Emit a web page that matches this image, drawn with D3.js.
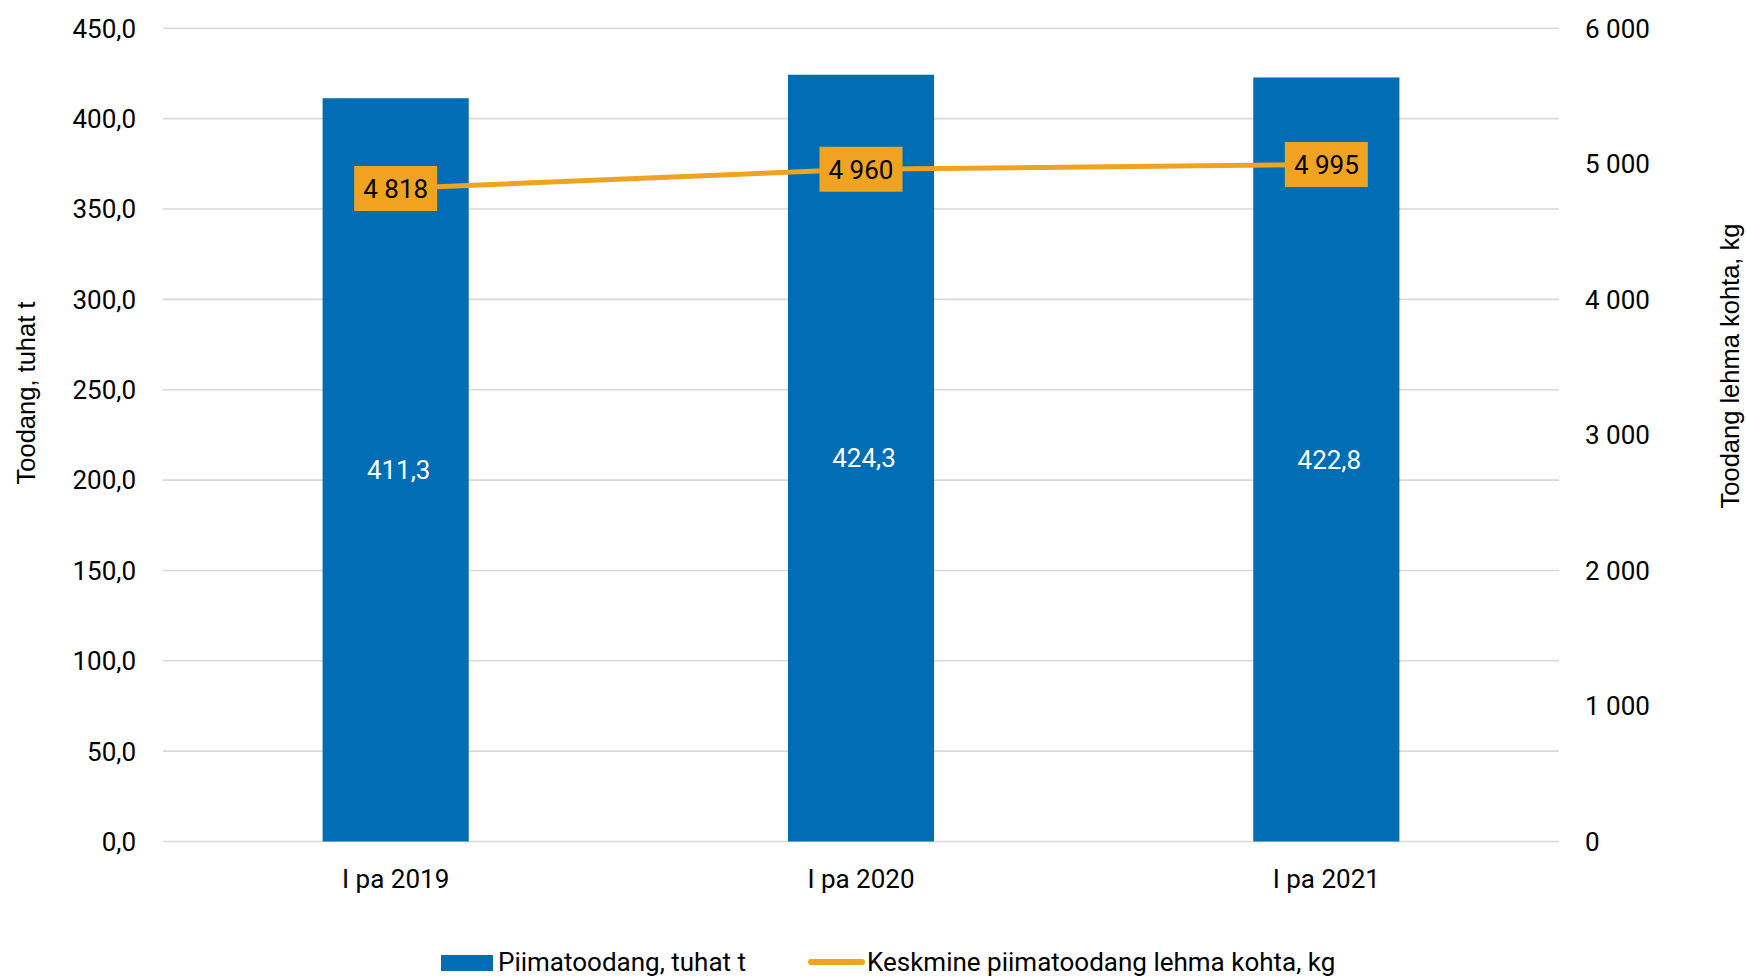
<!DOCTYPE html>
<html>
<head>
<meta charset="utf-8">
<script src="https://cdn.jsdelivr.net/npm/d3@7"></script>
<style>
  html, body { margin: 0; padding: 0; background: #ffffff; }
  svg { display: block; }
  text { font-family: Roboto, "Noto Sans", sans-serif; }
</style>
</head>
<body>
<svg id="chart" width="1746" height="977"></svg>
<script>
// ---- data ----
const categories = ["I pa 2019", "I pa 2020", "I pa 2021"];
const milkProduction = [411.3, 424.3, 422.8];          // tuhat t (left axis)
const yieldPerCow = [4818, 4960, 4995];                 // kg (right axis)
const leftTicks = [0, 50, 100, 150, 200, 250, 300, 350, 400, 450];
const rightTicks = [0, 1000, 2000, 3000, 4000, 5000, 6000];
const seriesNames = ["Piimatoodang, tuhat t", "Keskmine piimatoodang lehma kohta, kg"];
const axisTitles = ["Toodang, tuhat t", "Toodang lehma kohta, kg"];

// ---- setup ----
const plot = { left: 163, right: 1559, top: 28.3, bottom: 841.5 };
const blue = "#006db5", orange = "#f0a320", grid = "#d9d9d9";
const FS = 26;

const loc = d3.formatLocale({ decimal: ",", thousands: " ", grouping: [3], currency: ["", ""] });
const fmt1 = loc.format(".1f");
const fmtK = loc.format(",.0f");

const svg = d3.select("#chart");

const x = d3.scaleBand().domain(categories).range([plot.left, plot.right])
  .paddingInner(0.686).paddingOuter(0.343);
const yL = d3.scaleLinear().domain([0, 450]).range([plot.bottom, plot.top]);
const yR = d3.scaleLinear().domain([0, 6000]).range([plot.bottom, plot.top]);

// gridlines
svg.append("g").selectAll("line").data(leftTicks).join("line")
  .attr("x1", plot.left).attr("x2", plot.right)
  .attr("y1", d => yL(d)).attr("y2", d => yL(d))
  .attr("stroke", grid).attr("stroke-width", 1.6);

// left tick labels
svg.append("g").selectAll("text").data(leftTicks).join("text")
  .attr("x", 136).attr("y", d => yL(d)).attr("dy", "0.36em")
  .attr("text-anchor", "end").attr("font-size", FS).attr("fill", "#000")
  .text(d => fmt1(d));

// right tick labels
svg.append("g").selectAll("text").data(rightTicks).join("text")
  .attr("x", 1585).attr("y", d => yR(d)).attr("dy", "0.36em")
  .attr("text-anchor", "start").attr("font-size", FS).attr("fill", "#000")
  .text(d => fmtK(d));

// bars
svg.append("g").selectAll("rect").data(categories).join("rect")
  .attr("x", d => x(d)).attr("width", x.bandwidth())
  .attr("y", (d, i) => yL(milkProduction[i]))
  .attr("height", (d, i) => yL(0) - yL(milkProduction[i]))
  .attr("fill", blue);

// bar value labels
svg.append("g").selectAll("text").data(categories).join("text")
  .attr("x", d => x(d) + x.bandwidth() / 2 + 3)
  .attr("y", (d, i) => (yL(milkProduction[i]) + yL(0)) / 2)
  .attr("dy", "0.36em").attr("text-anchor", "middle")
  .attr("font-size", FS).attr("fill", "#ffffff")
  .text((d, i) => fmt1(milkProduction[i]));

// x labels
svg.append("g").selectAll("text").data(categories).join("text")
  .attr("x", d => x(d) + x.bandwidth() / 2)
  .attr("y", 888).attr("text-anchor", "middle")
  .attr("font-size", FS).attr("fill", "#000")
  .text(d => d);

// line
const cx = d => x(d) + x.bandwidth() / 2;
const line = d3.line().x(d => cx(d)).y((d, i) => yR(yieldPerCow[i]));
svg.append("path").datum(categories)
  .attr("d", line).attr("fill", "none")
  .attr("stroke", orange).attr("stroke-width", 5);

// line labels (boxes centred on the points)
const lbl = svg.append("g").selectAll("g").data(categories).join("g")
  .attr("transform", (d, i) => `translate(${cx(d)},${yR(yieldPerCow[i])})`);
lbl.append("rect").attr("x", -41.5).attr("y", -22.5).attr("width", 83).attr("height", 45)
  .attr("fill", orange);
lbl.append("text").attr("x", 0).attr("y", 0).attr("dy", "0.36em")
  .attr("text-anchor", "middle").attr("font-size", FS).attr("fill", "#000")
  .text((d, i) => fmtK(yieldPerCow[i]));

// axis titles
svg.append("text")
  .attr("transform", "translate(35,393) rotate(-90)")
  .attr("text-anchor", "middle").attr("font-size", 25.5)
  .style("font-family", "'Liberation Sans', Arial, sans-serif")
  .text(axisTitles[0]);
svg.append("text")
  .attr("transform", "translate(1739,366) rotate(-90)")
  .attr("text-anchor", "middle").attr("font-size", 25.5)
  .style("font-family", "'Liberation Sans', Arial, sans-serif")
  .text(axisTitles[1]);

// legend
const lg = svg.append("g");
lg.append("rect").attr("x", 441).attr("y", 955).attr("width", 52).attr("height", 16).attr("fill", blue);
lg.append("text").attr("x", 498).attr("y", 971).attr("font-size", FS).text(seriesNames[0]);
lg.append("line").attr("x1", 811).attr("x2", 862).attr("y1", 962).attr("y2", 962)
  .attr("stroke", orange).attr("stroke-width", 6).attr("stroke-linecap", "round");
lg.append("text").attr("x", 867).attr("y", 971).attr("font-size", FS).text(seriesNames[1]);
</script>
</body>
</html>
